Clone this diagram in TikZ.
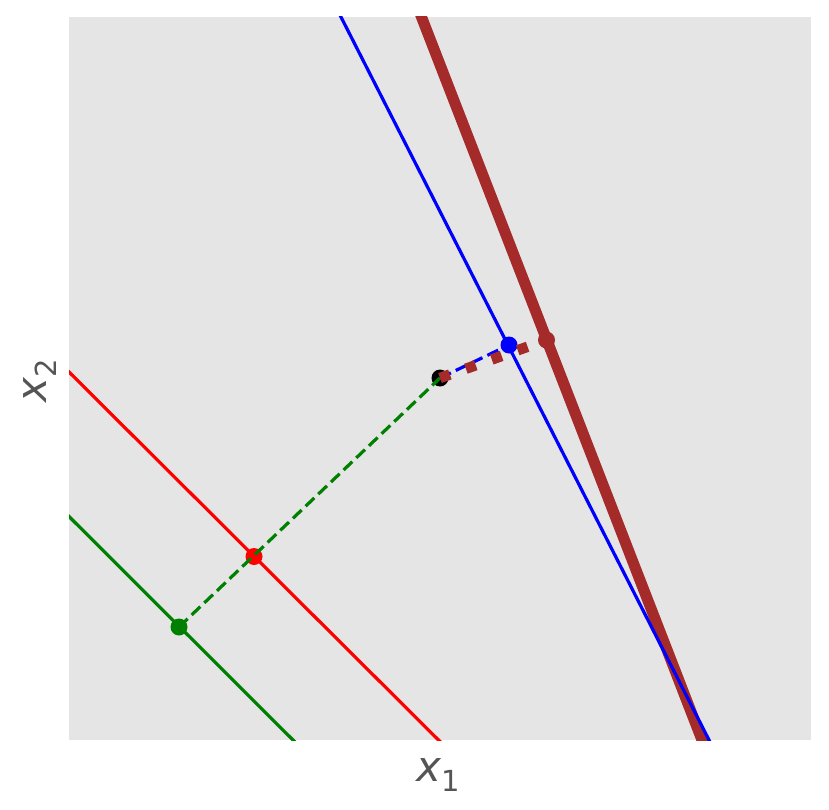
\documentclass[tikz,border=0pt]{standalone}
\usepackage{fontspec}
\usetikzlibrary{calc}
\newfontfamily\dvsans{DejaVu Sans}
\definecolor{bgray}{HTML}{E5E5E5}
\definecolor{lblgray}{HTML}{555555}
\definecolor{brn}{HTML}{A52A2A}
\definecolor{grn}{HTML}{008000}
\tikzset{
  thinline/.style={line width=3.2pt},
  dotpt/.style={circle, inner sep=0pt, minimum size=17pt, fill=#1, draw=none},
  dashline/.style={line width=3.2pt, dash pattern=on 12pt off 5.5pt},
  dotline/.style={line width=10.5pt, dash pattern=on 10.5pt off 17pt},
  axlabel/.style={text=lblgray, inner sep=0pt, font=\dvsans\fontsize{42}{50}\selectfont}
}
\begin{document}
\begin{tikzpicture}[x=1pt,y=-1pt]
\useasboundingbox (0,0) rectangle (829,810);
\fill[bgray] (69,17) rectangle (811,740);
% line end coordinates
\coordinate (bt) at (341,17);
\coordinate (bb) at (709,740);
\coordinate (rt) at (421.5,17);
\coordinate (rb) at (702,740);
\coordinate (redl) at (69,372);
\coordinate (redb) at (438.5,740);
\coordinate (gl) at (69,516.5);
\coordinate (gb) at (293,740);
\begin{scope}
\clip (69,17) rectangle (811,740);
\draw[brn, line width=11pt] ($(rt)!-0.05!(rb)$) -- ($(rb)!-0.05!(rt)$);
\draw[blue, thinline] ($(bt)!-0.02!(bb)$) -- ($(bb)!-0.02!(bt)$);
\draw[red, thinline] ($(redl)!-0.02!(redb)$) -- ($(redb)!-0.02!(redl)$);
\draw[grn, thinline] ($(gl)!-0.02!(gb)$) -- ($(gb)!-0.02!(gl)$);
\end{scope}
% points
\node[dotpt=black] (k) at (440,378) {};
\node[dotpt=blue] (bp) at (509,345) {};
\node[dotpt=brn] (rp) at (546.5,340) {};
\node[dotpt=red] (redp) at (254,556.5) {};
\node[dotpt=grn] (gp) at (179,627) {};
% connectors
\draw[grn, dashline] (gp.center) -- (k.center);
\draw[blue, dashline] (k.center) -- (bp.center);
\draw[brn, dotline] (k.center) -- (rp.center);
% labels
\node[axlabel] (xl1) at (438,775) {{\itshape x}\raisebox{-0.22em}{\fontsize{29}{30}\selectfont 1}};
\node[axlabel, rotate=90] (xl2) at (40,381) {{\itshape x}\raisebox{-0.22em}{\fontsize{29}{30}\selectfont 2}};
\end{tikzpicture}
\end{document}
